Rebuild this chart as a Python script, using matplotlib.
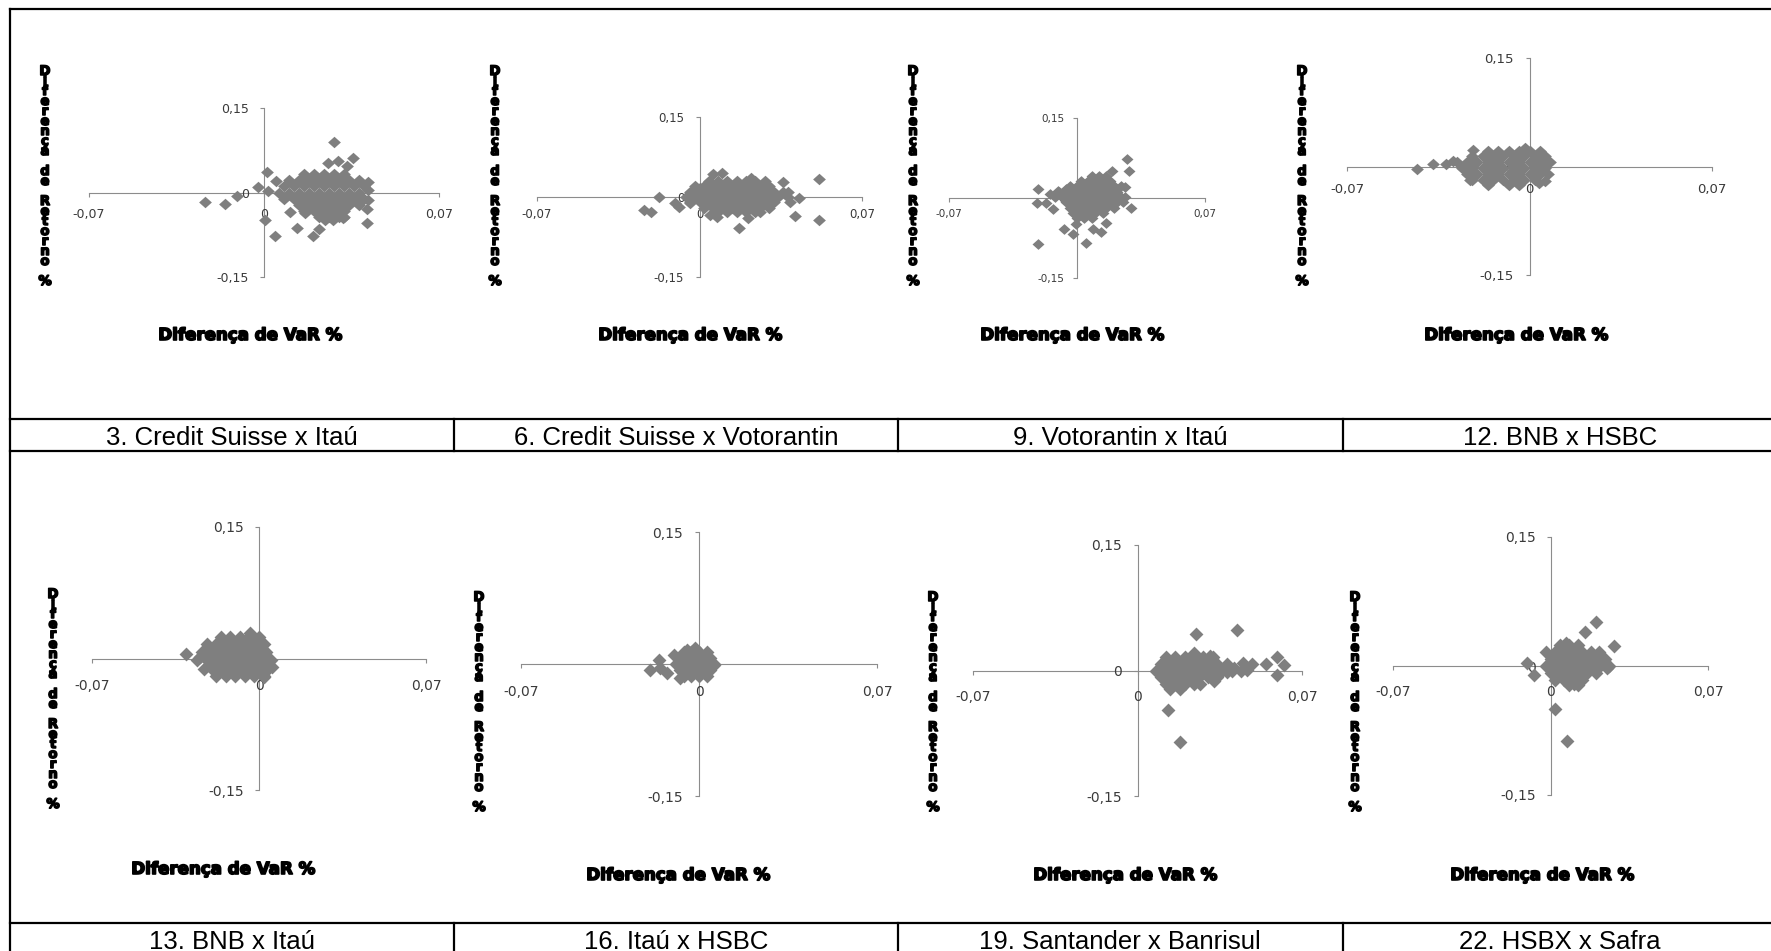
import matplotlib.pyplot as plt
import matplotlib.patheffects as pe
from matplotlib.lines import Line2D

# tamanho final da figura em pixels
W, H = 1771, 951

titulos = ["3. Credit Suisse x Itaú", "6. Credit Suisse x Votorantin",
           "9. Votorantin x Itaú", "12. BNB x HSBC",
           "13. BNB x Itaú", "16. Itaú x HSBC",
           "19. Santander x Banrisul", "22. HSBX x Safra"]

x_ticks = [-0.07, 0, 0.07]
x_ticklabels = ["-0,07", "0", "0,07"]
y_ticks = [-0.15, 0, 0.15]
y_ticklabels = ["-0,15", "0", "0,15"]
rotulo_x = "Diferença de VaR %"
rotulo_y = "Diferença de Retorno %"

# pontos (diferença de VaR, diferença de retorno)
# pontos isolados + nuvem central lida linha a linha (y, [x...])
cs_itau_pontos = [
    (0.028, 0.090), (0.0256, 0.053), (0.0296, 0.056), (0.0356, 0.062), (0.033, 0.047),
    (0.001, 0.036), (0.0047, 0.020), (-0.0024, 0.009), (0.0016, 0.003), (-0.0107, -0.0065),
    (-0.0155, -0.0196), (-0.0237, -0.0166), (0.0005, -0.048), (0.0043, -0.078), (0.0105, -0.034),
    (0.0132, -0.063), (0.0163, -0.037), (0.0196, -0.078), (0.022, -0.065), (0.0243, -0.049),
    (0.0316, -0.045), (0.041, -0.055), (0.041, -0.030), (0.0416, 0.019), (0.0416, 0.005),
    (0.0416, -0.014), (0.0376, -0.014), (0.032, -0.043), (0.0276, -0.049),
]
cs_itau_linhas = [
    (0.033, [0.016, 0.020, 0.024, 0.028, 0.032]),
    (0.022, [0.010, 0.014, 0.018, 0.022, 0.026, 0.030, 0.034, 0.038]),
    (0.011, [0.008, 0.012, 0.016, 0.020, 0.024, 0.028, 0.032, 0.036, 0.040]),
    (0.000, [0.006, 0.010, 0.014, 0.018, 0.022, 0.026, 0.030, 0.034, 0.038]),
    (-0.011, [0.008, 0.012, 0.016, 0.020, 0.024, 0.028, 0.032, 0.036, 0.040]),
    (-0.022, [0.014, 0.018, 0.022, 0.026, 0.030, 0.034, 0.038]),
    (-0.033, [0.016, 0.020, 0.024, 0.028, 0.032]),
    (-0.044, [0.022, 0.026, 0.030]),
]

cs_voto_pontos = [
    (0.0514, 0.034), (0.0514, -0.044), (0.041, -0.035), (0.0168, -0.059), (0.021, -0.040),
    (-0.024, -0.024), (-0.021, -0.029), (-0.0174, 0.0), (-0.0105, -0.012), (-0.009, -0.018),
    (0.0058, 0.044), (0.0096, 0.045), (0.036, 0.028), (0.038, 0.009), (0.043, -0.001),
    (0.039, -0.009), (0.0046, -0.034), (0.0075, -0.037), (0.026, -0.028), (0.022, 0.036),
    (-0.0043, -0.012), (0.0, 0.016),
]
cs_voto_linhas = [
    (0.030, [0.004, 0.008, 0.012, 0.016, 0.020, 0.024, 0.028]),
    (0.020, [-0.002, 0.002, 0.006, 0.010, 0.014, 0.018, 0.022, 0.026, 0.030]),
    (0.010, [-0.004, 0.000, 0.004, 0.008, 0.012, 0.016, 0.020, 0.024, 0.028, 0.032, 0.036]),
    (0.000, [-0.006, -0.002, 0.002, 0.006, 0.010, 0.014, 0.018, 0.022, 0.026, 0.030, 0.034, 0.038]),
    (-0.010, [-0.004, 0.000, 0.004, 0.008, 0.012, 0.016, 0.020, 0.024, 0.028, 0.032]),
    (-0.020, [0.002, 0.006, 0.010, 0.014, 0.018, 0.022, 0.026, 0.030]),
    (-0.028, [0.008, 0.012, 0.016, 0.020, 0.024]),
]

voto_itau_pontos = [
    (0.0274, 0.074), (0.0285, 0.050), (0.019, 0.051), (0.026, 0.021), (0.0297, -0.018),
    (-0.0214, 0.016), (-0.022, -0.009), (-0.0168, -0.009), (-0.013, -0.020), (-0.015, 0.007),
    (-0.0071, -0.059), (-0.0022, -0.068), (0.0051, -0.085), (-0.0214, -0.087), (0.0088, -0.058),
    (0.0133, -0.063), (0.016, -0.046), (-0.0004, -0.048), (-0.0104, 0.013), (-0.0058, 0.016),
]
voto_itau_linhas = [
    (0.042, [0.008, 0.012, 0.016]),
    (0.032, [0.002, 0.006, 0.010, 0.014, 0.018]),
    (0.022, [-0.004, 0.000, 0.004, 0.008, 0.012, 0.016, 0.020, 0.024]),
    (0.012, [-0.010, -0.006, -0.002, 0.002, 0.006, 0.010, 0.014, 0.018, 0.022]),
    (0.002, [-0.012, -0.008, -0.004, 0.000, 0.004, 0.008, 0.012, 0.016, 0.020, 0.024, 0.026]),
    (-0.008, [-0.006, -0.002, 0.002, 0.006, 0.010, 0.014, 0.018, 0.022, 0.025]),
    (-0.018, [-0.004, 0.000, 0.004, 0.008, 0.012, 0.016, 0.020]),
    (-0.028, [-0.002, 0.002, 0.006, 0.010, 0.014]),
    (-0.038, [0.000, 0.004, 0.008]),
]

bnb_hsbc_pontos = [
    (-0.0433, -0.003), (-0.0369, 0.003), (-0.032, 0.004), (-0.0292, 0.008), (-0.0215, 0.023),
    (-0.0228, -0.018), (0.0035, -0.023), (0.006, -0.020), (-0.0036, -0.023), (-0.0017, 0.025),
]
bnb_hsbc_linhas = [
    (0.022, [-0.016, -0.012, -0.008, -0.004, 0.000, 0.004]),
    (0.014, [-0.022, -0.018, -0.014, -0.010, -0.006, -0.002, 0.002, 0.006]),
    (0.006, [-0.028, -0.024, -0.020, -0.016, -0.012, -0.008, -0.004, 0.000, 0.004, 0.008]),
    (-0.002, [-0.026, -0.022, -0.018, -0.014, -0.010, -0.006, -0.002, 0.002, 0.006]),
    (-0.010, [-0.024, -0.020, -0.016, -0.012, -0.008, -0.004, 0.000, 0.004, 0.007]),
    (-0.018, [-0.022, -0.018, -0.014, -0.010, -0.006, -0.002, 0.002]),
    (-0.025, [-0.016, -0.008, -0.004]),
]

bnb_itau_pontos = [
    (-0.0308, 0.005), (-0.0246, 0.002), (-0.0229, -0.012), (-0.0036, 0.029), (0.0054, -0.010),
    (0.002, -0.021),
]
bnb_itau_linhas = [
    (0.025, [-0.016, -0.012, -0.008, -0.004, 0.000]),
    (0.016, [-0.022, -0.018, -0.014, -0.010, -0.006, -0.002, 0.002]),
    (0.007, [-0.024, -0.020, -0.016, -0.012, -0.008, -0.004, 0.000, 0.003]),
    (-0.002, [-0.026, -0.022, -0.018, -0.014, -0.010, -0.006, -0.002, 0.002, 0.005]),
    (-0.011, [-0.020, -0.016, -0.012, -0.008, -0.004, 0.000, 0.004]),
    (-0.020, [-0.018, -0.014, -0.010, -0.006, -0.002, 0.002]),
]

itau_hsbc_pontos = [
    (-0.0194, -0.0068), (-0.0159, 0.0045), (-0.0152, -0.005), (-0.0126, -0.0106), (-0.010, 0.010),
    (-0.0073, -0.016), (-0.0047, 0.016), (-0.0014, 0.018), (0.006, -0.001),
]
itau_hsbc_linhas = [
    (0.014, [-0.006, -0.003, 0.000, 0.003]),
    (0.007, [-0.0075, -0.0045, -0.0015, 0.0015, 0.0045]),
    (0.000, [-0.009, -0.006, -0.003, 0.000, 0.003, 0.006]),
    (-0.007, [-0.0075, -0.0045, -0.0015, 0.0015, 0.0045]),
    (-0.014, [-0.006, -0.003, 0.000, 0.003]),
]

sant_banr_pontos = [
    (0.0251, 0.044), (0.0424, 0.049), (0.0129, -0.047), (0.018, -0.085), (0.024, 0.021),
    (0.031, 0.017), (0.0594, 0.016), (0.0594, -0.005), (0.0623, 0.006), (0.0545, 0.008),
    (0.0488, 0.008), (0.045, 0.009), (0.041, 0.003), (0.038, -0.002), (0.0467, 0.0004),
    (0.0325, -0.013), (0.0268, -0.016),
]
sant_banr_linhas = [
    (0.016, [0.012, 0.016, 0.020, 0.024, 0.028, 0.032]),
    (0.008, [0.010, 0.014, 0.018, 0.022, 0.026, 0.030, 0.034, 0.038]),
    (0.000, [0.008, 0.012, 0.016, 0.020, 0.024, 0.028, 0.032, 0.036, 0.040, 0.044]),
    (-0.008, [0.010, 0.014, 0.018, 0.022, 0.026, 0.030, 0.034]),
    (-0.016, [0.012, 0.016, 0.020, 0.024]),
    (-0.022, [0.014, 0.018]),
]

hsbc_safra_pontos = [
    (0.0204, 0.051), (0.0155, 0.040), (0.0284, 0.023), (0.0022, -0.050), (0.0074, -0.087),
    (-0.0103, 0.003), (-0.0074, -0.010), (-0.0022, 0.016), (0.0106, -0.021), (0.0237, 0.006),
    (0.0251, -0.002), (0.0214, 0.016), (0.0067, 0.027),
]
hsbc_safra_linhas = [
    (0.024, [0.004, 0.008, 0.012]),
    (0.016, [0.002, 0.006, 0.010, 0.014, 0.018]),
    (0.008, [0.000, 0.004, 0.008, 0.012, 0.016, 0.020, 0.024]),
    (0.000, [-0.002, 0.002, 0.006, 0.010, 0.014, 0.018, 0.022, 0.026]),
    (-0.008, [0.000, 0.004, 0.008, 0.012, 0.016, 0.020]),
    (-0.016, [0.002, 0.006, 0.010, 0.014]),
    (-0.022, [0.008, 0.012]),
]

paineis = [
    (cs_itau_pontos, cs_itau_linhas), (cs_voto_pontos, cs_voto_linhas),
    (voto_itau_pontos, voto_itau_linhas), (bnb_hsbc_pontos, bnb_hsbc_linhas),
    (bnb_itau_pontos, bnb_itau_linhas), (itau_hsbc_pontos, itau_hsbc_linhas),
    (sant_banr_pontos, sant_banr_linhas), (hsbc_safra_pontos, hsbc_safra_linhas),
]

# posicao de cada grafico em pixels:
# eixo x (esq, dir), eixo y (topo, base), rotulo x (centro, base), rotulo y (x, topo),
# fonte dos ticks, pad x, pad y, altura relativa do losango, tamanho do losango
layout = [
    (89, 439, 108, 277, 250, 340, 45, 67, 9.0, 8, 8, 0.9, 9.2),
    (537, 862, 117, 277, 690, 340, 495, 67, 8.5, 5, 8, 0.9, 9.2),
    (949, 1205, 118, 278, 1072, 340, 913, 67, 7.5, 5, 6, 0.9, 8.6),
    (1347, 1712, 58, 275, 1516, 340, 1302, 67, 9.5, 9, 8.5, 0.9, 9.2),
    (92, 426, 527, 790, 223, 874, 53, 590, 10.0, 12, 8, 1.0, 10.0),
    (521, 877, 532, 796, 678, 880, 479, 593, 10.0, 12, 8.5, 1.0, 10.0),
    (973, 1302, 545, 796, 1125, 880, 933, 593, 10.0, 11, 8, 1.0, 10.0),
    (1393, 1708, 537, 795, 1542, 880, 1355, 593, 10.0, 11, 7.5, 1.0, 10.0),
]

cinza_eixo = '#8c8c8c'
cinza_ponto = '#7f7f7f'

fig = plt.figure(figsize=(W / 100, H / 100), dpi=100)
fig.patch.set_facecolor('white')


def fx(x):
    return x / W


def fy(y):
    return 1 - y / H


for (pontos, linhas), lay in zip(paineis, layout):
    x0, x1, yt, yb, lx, ly, ylx, ylt, fs, xpad, ypad, asp, ms = lay
    ax = fig.add_axes([fx(x0), fy(yb), (x1 - x0) / W, (yb - yt) / H])
    ax.set_xlim(-0.07, 0.07)
    ax.set_ylim(-0.15, 0.15)
    ax.patch.set_alpha(0)
    ax.spines['top'].set_visible(False)
    ax.spines['right'].set_visible(False)
    ax.spines['left'].set_position(('data', 0))
    ax.spines['bottom'].set_position(('data', 0))
    for s in ['left', 'bottom']:
        ax.spines[s].set_color(cinza_eixo)
        ax.spines[s].set_linewidth(0.8)
        ax.spines[s].set_zorder(1)

    ax.set_xticks(x_ticks)
    ax.set_xticklabels(x_ticklabels)
    ax.set_yticks(y_ticks)
    ax.set_yticklabels(y_ticklabels)
    ax.tick_params(axis='x', direction='out', length=3, width=0.8, color=cinza_eixo,
                   labelsize=fs, labelcolor='#3a3a3a', pad=xpad)
    ax.tick_params(axis='y', direction='out', length=3, width=0.8, color=cinza_eixo,
                   labelsize=fs, labelcolor='#3a3a3a', pad=ypad)

    xs = [p[0] for p in pontos]
    ys = [p[1] for p in pontos]
    for y, linha_x in linhas:
        xs += linha_x
        ys += [y] * len(linha_x)

    losango = [(-1, 0), (0, asp), (1, 0), (0, -asp)]
    ax.plot(xs, ys, linestyle='none', marker=losango, ms=ms, color=cinza_ponto,
            mec='none', zorder=2, clip_on=False)

    # titulo do eixo x
    fig.text(fx(lx), fy(ly), rotulo_x, ha='center', va='baseline',
             fontsize=12, fontweight='bold', family='DejaVu Sans', color='black',
             path_effects=[pe.withStroke(linewidth=1.2, foreground='black')])
    # titulo do eixo y, letras empilhadas
    for i, ch in enumerate(rotulo_y):
        if ch == ' ':
            continue
        fig.text(fx(ylx), fy(ylt + 4.5 + i * 10), ch, ha='center', va='center',
                 fontsize=9.5, fontweight='bold', family='DejaVu Sans', color='black',
                 path_effects=[pe.withStroke(linewidth=1.1, foreground='black')])


# linhas da tabela
def linha(xa, ya, xb, yb):
    fig.add_artist(Line2D([fx(xa), fx(xb)], [fy(ya), fy(yb)], color='black',
                          linewidth=1.6, transform=fig.transFigure))


linha(10, 9, W, 9)
linha(10, 9, 10, H)
for y in [419, 451, 923]:
    linha(10, y, W, y)
for x in [454, 898, 1343]:
    linha(x, 419, x, 451)
    linha(x, 923, x, H)

centros = [232, 676, 1120, 1560]
for i, t in enumerate(titulos):
    base = 445 if i < 4 else 949
    fig.text(fx(centros[i % 4]), fy(base), t, ha='center', va='baseline',
             fontsize=18.5, family='Liberation Sans', color='black')

fig.savefig('out.png', dpi=100, facecolor='white')
